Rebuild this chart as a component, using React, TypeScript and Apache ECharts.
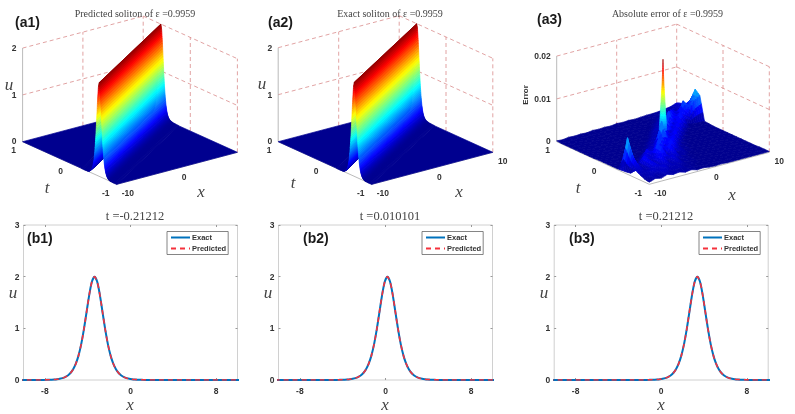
import React, { useEffect, useRef } from "react";
import * as echarts from "echarts";

const SANS = '"Liberation Sans", Arial, sans-serif';
const SERIF = '"Liberation Serif", "DejaVu Serif", serif';

// ---------- data ----------
const profileOffset = [-24, -10, -6, -5, -4.5, -4, -3.75, -3.5, -3.25, -3, -2.75, -2.5, -2.25, -2, -1.75, -1.5, -1.25, -1, -0.75, -0.5, -0.25, 0, 0.25, 0.5, 0.75, 1, 1.25, 1.5, 1.75, 2, 2.25, 2.5, 2.75, 3, 3.25, 3.5, 3.75, 4, 4.5, 5, 6, 10, 24];
const exactProfile = [0, 0, 0, 0.001, 0.0025, 0.006, 0.0095, 0.015, 0.023, 0.036, 0.056, 0.087, 0.135, 0.207, 0.315, 0.472, 0.69, 0.974, 1.309, 1.644, 1.902, 2, 1.902, 1.644, 1.309, 0.974, 0.69, 0.472, 0.315, 0.207, 0.135, 0.087, 0.056, 0.036, 0.023, 0.015, 0.0095, 0.006, 0.0025, 0.001, 0, 0, 0];
const predictedProfile = [0, 0, 0, 0.001, 0.0025, 0.006, 0.0095, 0.015, 0.023, 0.036, 0.056, 0.087, 0.135, 0.207, 0.315, 0.472, 0.69, 0.974, 1.309, 1.644, 1.902, 2, 1.902, 1.644, 1.309, 0.974, 0.69, 0.472, 0.315, 0.207, 0.135, 0.087, 0.056, 0.036, 0.023, 0.015, 0.0095, 0.006, 0.0025, 0.001, 0, 0, 0];
const ridgeSpeed = 16; // crest travels x = 16 t
const sliceCentres = [-3.36, 0.18, 3.38];
const sliceTitles = ["t =-0.21212", "t =0.010101", "t =0.21212"];
const surfaceTitles = ["Predicted soliton of ε =0.9959", "Exact soliton of ε =0.9959", "Absolute error of ε =0.9959"];
const xTicks3d = [-10, 0, 10];
const tTicks3d = [-1, 0, 1];
const uTicks = [0, 1, 2];
const errTicks = [0, 0.01, 0.02];
const errX = [-10, -9, -8, -7, -6, -5, -4, -3, -2, -1, 0, 1, 2, 3, 4, 5, 6, 7, 8, 9, 10];
const errT = [-1, -0.9, -0.8, -0.7, -0.6, -0.5, -0.4, -0.3, -0.2, -0.1, 0, 0.1, 0.2, 0.3, 0.4, 0.5, 0.6, 0.7, 0.8, 0.9, 1];
// absolute error, in units of 1e-4; rows follow errT, columns follow errX
const errRows = [
  [5, 10, 7, 12, 8, 10, 6, 8, 4, 5, 3, 2, 3, 2, 2, 2, 2, 2, 2, 2, 2],
  [7, 14, 9, 17, 12, 9, 11, 7, 6, 4, 3, 3, 2, 2, 2, 2, 2, 2, 2, 2, 2],
  [12, 10, 18, 13, 20, 10, 14, 8, 7, 5, 4, 3, 3, 2, 2, 2, 2, 2, 2, 2, 2],
  [18, 13, 10, 24, 14, 20, 10, 16, 7, 6, 5, 3, 3, 2, 2, 2, 2, 2, 2, 2, 1],
  [6, 22, 9, 26, 12, 30, 12, 22, 9, 8, 5, 4, 3, 2, 2, 2, 2, 2, 2, 1, 1],
  [4, 40, 8, 30, 14, 22, 36, 12, 24, 8, 6, 4, 3, 3, 2, 2, 2, 2, 2, 2, 1],
  [3, 75, 6, 10, 26, 12, 42, 16, 34, 12, 12, 5, 4, 3, 2, 2, 2, 2, 2, 1, 1],
  [2, 4, 4, 5, 8, 28, 12, 46, 14, 36, 14, 8, 5, 3, 2, 2, 2, 2, 2, 1, 1],
  [2, 3, 3, 3, 4, 6, 20, 10, 44, 18, 32, 10, 6, 4, 3, 2, 2, 2, 2, 1, 1],
  [2, 2, 3, 3, 3, 3, 5, 16, 12, 68, 16, 30, 8, 5, 3, 2, 2, 2, 2, 1, 1],
  [2, 2, 2, 2, 3, 3, 3, 4, 14, 10, 46, 14, 32, 7, 4, 3, 2, 2, 2, 1, 1],
  [2, 2, 2, 2, 2, 3, 3, 3, 5, 15, 8, 38, 10, 30, 7, 4, 3, 2, 2, 1, 1],
  [1, 2, 2, 2, 2, 2, 3, 3, 3, 5, 14, 9, 52, 14, 32, 6, 3, 2, 2, 2, 1],
  [1, 1, 2, 2, 2, 2, 2, 3, 3, 3, 5, 14, 8, 46, 12, 34, 7, 3, 2, 2, 2],
  [1, 1, 1, 2, 2, 2, 2, 2, 3, 3, 3, 6, 16, 9, 48, 14, 38, 8, 4, 3, 3],
  [1, 1, 1, 1, 2, 2, 2, 2, 2, 3, 3, 3, 6, 14, 10, 40, 16, 36, 22, 48, 58],
  [1, 1, 1, 1, 1, 2, 2, 2, 2, 2, 3, 3, 3, 6, 14, 12, 34, 12, 48, 30, 68],
  [1, 1, 1, 1, 1, 1, 2, 2, 2, 2, 2, 3, 3, 4, 6, 12, 10, 26, 12, 22, 38],
  [1, 1, 1, 1, 1, 1, 1, 2, 2, 2, 2, 2, 3, 3, 4, 6, 9, 10, 14, 12, 24],
  [1, 1, 1, 2, 1, 2, 1, 2, 2, 2, 2, 3, 2, 3, 3, 5, 7, 9, 11, 13, 20],
  [2, 1, 3, 2, 3, 2, 4, 3, 4, 3, 5, 4, 5, 4, 5, 6, 6, 7, 9, 11, 16],
];
// the one narrow spike that the error grid is too coarse for: x, t, base, top (1e-4)
const errSpike = [0, 0, 40, 205];
const errPeak = 205;

// ---------- panel geometry (how the box is seen) ----------
type Panel = { cx: number; cy: number; xv: number[]; tv: number[]; zs: number };
const panels: Panel[] = [
  { cx: 130, cy: 147, xv: [6.03, -1.6], tv: [-47.1, -21.3], zs: 46.8 },
  { cx: 385.5, cy: 147, xv: [6.05, -1.6], tv: [-46.8, -21.3], zs: 47 },
  { cx: 663, cy: 147, xv: [6.0, -1.6], tv: [-46.3, -21.3], zs: 4280 },
];
const zTickSets = [uTicks, uTicks, errTicks];
const zTickText = [["0", "1", "2"], ["0", "1", "2"], ["0", "0.01", "0.02"]];
const showX10 = [false, true, true];
const HALF_W = 130;
const UP = 147;
const DOWN = 60;

const project = (p: Panel, x: number, t: number, z: number) => [
  x * p.xv[0] + t * p.tv[0],
  -(x * p.xv[1] + t * p.tv[1]) + z * p.zs,
];

const jet = (v0: number) => {
  const v = Math.max(0, Math.min(1, v0)) * 0.97 + 0.015;
  const ramp = (c: number) => Math.max(0, Math.min(1, 1.5 - Math.abs(4 * v - c)));
  return `rgb(${Math.round(255 * ramp(3))},${Math.round(255 * ramp(2))},${Math.round(255 * ramp(1))})`;
};

const poly = (api: any, p: Panel, pts: number[][], fill: string) => ({
  type: "polygon",
  shape: { points: pts.map((q) => api.coord(project(p, q[0], q[1], q[2]))) },
  style: { fill, stroke: fill, lineWidth: 0.7 },
});

// ---------- ridge surface: strips parallel to the crest ----------
function ridgeStrips(profile: number[]) {
  const rows: number[][] = [];
  const n = 6;
  for (let i = 0; i < profileOffset.length - 1; i++) {
    const d0 = profileOffset[i];
    const d1 = profileOffset[i + 1];
    if (d0 < -6 || d1 > 6) continue;
    for (let k = 0; k < n; k++) {
      const a = k / n;
      const b = (k + 1) / n;
      rows.push([
        d0 + (d1 - d0) * a,
        d0 + (d1 - d0) * b,
        profile[i] + (profile[i + 1] - profile[i]) * a,
        profile[i] + (profile[i + 1] - profile[i]) * b,
      ]);
    }
  }
  return rows;
}

function ridgeSeries(pi: number, profile: number[]) {
  const p = panels[pi];
  const floorColour = jet(0);
  return [
    {
      type: "custom",
      xAxisIndex: pi,
      yAxisIndex: pi,
      silent: true,
      clip: false,
      z: 3,
      data: [[0]],
      renderItem: (_: any, api: any) => ({
        type: "group",
        children: [
          poly(api, p, [[-10, 1, 0], [10, 1, 0], [-10, (-10 + 6) / ridgeSpeed, 0]], floorColour),
          poly(api, p, [[-10, -1, 0], [10, -1, 0], [10, (10 - 6) / ridgeSpeed, 0]], floorColour),
        ],
      }),
    },
    {
      type: "custom",
      xAxisIndex: pi,
      yAxisIndex: pi,
      silent: true,
      clip: false,
      z: 4,
      data: ridgeStrips(profile),
      renderItem: (_: any, api: any) => {
        const d0 = api.value(0);
        const d1 = api.value(1);
        const u0 = api.value(2);
        const u1 = api.value(3);
        const ts = ridgeSpeed;
        return poly(api, p, [
          [-10, (-10 - d0) / ts, u0],
          [10, (10 - d0) / ts, u0],
          [10, (10 - d1) / ts, u1],
          [-10, (-10 - d1) / ts, u1],
        ], jet(((u0 + u1) / 2) / 2));
      },
    },
  ];
}

// ---------- error surface ----------
function errorSeries(pi: number) {
  const p = panels[pi];
  const cells: number[][] = [];
  for (let j = errT.length - 2; j >= 0; j--) {
    for (let i = errX.length - 2; i >= 0; i--) {
      cells.push([i, j]);
      if (errX[i] === errSpike[0] && errT[j] === errSpike[1]) cells.push([-1, -1]);
    }
  }
  const spike = (api: any) => {
    const [sx, st, base, top] = errSpike;
    const bands = 30;
    const wx = 0.36;
    const wt = 0.036;
    const ring = (k: number) => {
      const l = k / bands;
      const w = Math.pow(1 - l, 1.3);
      const h = (base + (top - base) * l) * 1e-4;
      return [
        [sx - wx * w, st + wt * w, h],
        [sx - wx * w, st - wt * w, h],
        [sx + wx * w, st - wt * w, h],
      ];
    };
    const children: any[] = [];
    for (let k = 0; k < bands; k++) {
      const lo = ring(k);
      const hi = ring(k + 1);
      const level = (base + (top - base) * ((k + 0.5) / bands)) / errPeak;
      children.push(poly(api, p, [lo[0], lo[1], lo[2], hi[2], hi[1], hi[0]], jet(level)));
    }
    return { type: "group", children };
  };
  return {
    type: "custom",
    xAxisIndex: pi,
    yAxisIndex: pi,
    silent: true,
    clip: false,
    z: 4,
    data: cells,
    renderItem: (_: any, api: any) => {
      const i = api.value(0);
      const j = api.value(1);
      if (i < 0) return spike(api);
      const a = errRows[j][i];
      const b = errRows[j][i + 1];
      const c = errRows[j + 1][i + 1];
      const e = errRows[j + 1][i];
      const spread = Math.max(a, b, c, e) - Math.min(a, b, c, e);
      const n = spread > 6 ? 3 : 1;
      const height = (u: number, v: number) => a * (1 - u) * (1 - v) + b * u * (1 - v) + c * u * v + e * (1 - u) * v;
      const at = (u: number, v: number) => [
        errX[i] + (errX[i + 1] - errX[i]) * u,
        errT[j] + (errT[j + 1] - errT[j]) * v,
        height(u, v) * 1e-4,
      ];
      const children: any[] = [];
      for (let vi = n - 1; vi >= 0; vi--) {
        for (let ui = n - 1; ui >= 0; ui--) {
          const u0 = ui / n;
          const u1 = (ui + 1) / n;
          const v0 = vi / n;
          const v1 = (vi + 1) / n;
          children.push(poly(api, p, [at(u0, v0), at(u1, v0), at(u1, v1), at(u0, v1)], jet(Math.max(0, height((u0 + u1) / 2, (v0 + v1) / 2) - 4) / errPeak)));
        }
      }
      return { type: "group", children };
    },
  };
}

// ---------- box wires and ticks ----------
function boxSeries(pi: number) {
  const p = panels[pi];
  const zt = zTickSets[pi];
  const top = zt[zt.length - 1];
  const dashed: number[][] = [];
  zt.slice(1).forEach((z) => {
    dashed.push([-10, 1, z, 10, 1, z]);
    dashed.push([10, 1, z, 10, -1, z]);
  });
  dashed.push([0, 1, 0, 0, 1, top]);
  dashed.push([10, 1, 0, 10, 1, top]);
  dashed.push([10, 0, 0, 10, 0, top]);
  dashed.push([10, -1, 0, 10, -1, top]);
  const solid = [
    [-10, 1, 0, -10, 1, top],
    [-10, 1, 0, -10, -1, 0],
    [-10, -1, 0, 10, -1, 0],
  ];
  const drawLine = (api: any, stroke: string, dash: any, w: number) => {
    const a = api.coord(project(p, api.value(0), api.value(1), api.value(2)));
    const b = api.coord(project(p, api.value(3), api.value(4), api.value(5)));
    return {
      type: "line",
      shape: { x1: a[0], y1: a[1], x2: b[0], y2: b[1] },
      style: { stroke, lineWidth: w, lineDash: dash, fill: "none" },
    };
  };
  return [
    { type: "custom", xAxisIndex: pi, yAxisIndex: pi, silent: true, clip: false, z: 2, data: dashed, renderItem: (_: any, api: any) => drawLine(api, "#d98c8c", [4, 3], 0.8) },
    { type: "custom", xAxisIndex: pi, yAxisIndex: pi, silent: true, clip: false, z: 2, data: solid, renderItem: (_: any, api: any) => drawLine(api, "#a8a8a8", null, 0.8) },
  ];
}

function tickSeries(pi: number) {
  const p = panels[pi];
  const label = (api: any, at: number[], dx: number, dy: number, text: string, align = "center") => {
    const c = api.coord(project(p, at[0], at[1], at[2]));
    return {
      type: "text",
      x: c[0] + dx,
      y: c[1] + dy,
      style: { text, fill: "#333", font: `bold 8.5px ${SANS}`, align, verticalAlign: "middle", textAlign: align, textVerticalAlign: "middle" },
    };
  };
  const items: number[][] = [];
  zTickSets[pi].forEach((_, i) => items.push([0, i]));
  tTicks3d.forEach((_, i) => items.push([1, i]));
  xTicks3d.forEach((_, i) => { if (i < 2 || showX10[pi]) items.push([2, i]); });
  return {
    type: "custom",
    xAxisIndex: pi,
    yAxisIndex: pi,
    silent: true,
    clip: false,
    z: 6,
    data: items,
    renderItem: (_: any, api: any) => {
      const kind = api.value(0);
      const i = api.value(1);
      if (kind === 0) return label(api, [-10, 1, zTickSets[pi][i]], -6, i === 0 ? -1 : 0, zTickText[pi][i], "right");
      if (kind === 1) {
        const t = tTicks3d[i];
        return label(api, [-10, t, 0], t === -1 ? -11 : -9, t === -1 ? 9 : 8, String(t));
      }
      const x = xTicks3d[i];
      return label(api, [x, -1, 0], x === 0 ? 7 : x === -10 ? 11 : 10, 9, String(x));
    },
  };
}

// ---------- texts ----------
const mathLabels = [
  ["u", 9, 84], ["t", 47, 187], ["x", 201, 191],
  ["u", 262, 83], ["t", 293, 182], ["x", 459, 191],
  ["t", 578, 187], ["x", 732, 194],
  ["u", 13, 292], ["x", 130, 404],
  ["u", 268, 292], ["x", 385, 404],
  ["u", 544, 292], ["x", 661, 404],
];
const panelTags = [
  ["(a1)", 15, 22], ["(a2)", 268, 22], ["(a3)", 537, 19],
  ["(b1)", 27, 238], ["(b2)", 303, 238], ["(b3)", 569, 238],
];

const bGrids = [
  { left: 23.5, width: 214 },
  { left: 278.5, width: 214 },
  { left: 554.2, width: 214 },
];
const legendLeft = [167, 422, 699];

function buildOption() {
  const grids: any[] = [];
  const xAxes: any[] = [];
  const yAxes: any[] = [];
  const series: any[] = [];
  const legends: any[] = [];

  panels.forEach((p, i) => {
    grids.push({ left: p.cx - HALF_W, top: p.cy - UP, width: 2 * HALF_W, height: UP + DOWN });
    xAxes.push({ type: "value", gridIndex: i, show: false, min: -HALF_W, max: HALF_W });
    yAxes.push({ type: "value", gridIndex: i, show: false, min: -DOWN, max: UP });
  });

  bGrids.forEach((g) => {
    grids.push({ left: g.left, width: g.width, top: 225, height: 155, show: true, borderColor: "#c4c4c4", borderWidth: 0.8, backgroundColor: "transparent" });
  });
  const xt = [-8, 0, 8];
  bGrids.forEach((_, i) => {
    xAxes.push({
      type: "value", gridIndex: 3 + i, min: -10, max: 10, splitLine: { show: false },
      axisLine: { show: false, onZero: false },
      axisTick: { inside: true, length: 2, customValues: xt, lineStyle: { color: "#999" } },
      axisLabel: { customValues: xt, color: "#333", fontFamily: SANS, fontSize: 8.5, fontWeight: "bold", margin: 6, hideOverlap: false },
    });
    yAxes.push({
      type: "value", gridIndex: 3 + i, min: 0, max: 3, interval: 1, splitLine: { show: false },
      axisLine: { show: false, onZero: false },
      axisTick: { inside: true, length: 2, lineStyle: { color: "#999" } },
      axisLabel: { color: "#333", fontFamily: SANS, fontSize: 8.5, fontWeight: "bold", margin: 4 },
    });
  });
  bGrids.forEach((_, i) => {
    xAxes.push({
      type: "value", gridIndex: 3 + i, position: "top", min: -10, max: 10, splitLine: { show: false },
      axisLine: { show: false, onZero: false }, axisLabel: { show: false },
      axisTick: { inside: true, length: 2, customValues: xt, lineStyle: { color: "#999" } },
    });
    yAxes.push({
      type: "value", gridIndex: 3 + i, position: "right", min: 0, max: 3, interval: 1, splitLine: { show: false },
      axisLine: { show: false, onZero: false }, axisLabel: { show: false },
      axisTick: { inside: true, length: 2, lineStyle: { color: "#999" } },
    });
  });

  panels.forEach((_, i) => {
    series.push(...boxSeries(i));
    if (i === 0) series.push(...ridgeSeries(0, predictedProfile));
    if (i === 1) series.push(...ridgeSeries(1, exactProfile));
    if (i === 2) series.push(errorSeries(2));
    series.push(tickSeries(i));
  });

  sliceCentres.forEach((c, i) => {
    series.push({
      name: "Exact", type: "line", xAxisIndex: 3 + i, yAxisIndex: 3 + i, symbol: "none", smooth: 0.25, z: 4,
      lineStyle: { color: "#0072BD", width: 2 },
      itemStyle: { color: "#0072BD" },
      data: profileOffset.map((d, k) => [c + d, exactProfile[k]]),
    });
    series.push({
      name: "Predicted", type: "line", xAxisIndex: 3 + i, yAxisIndex: 3 + i, symbol: "none", smooth: 0.25, z: 5,
      lineStyle: { color: "#F5323C", width: 1.6, type: [5, 4] },
      itemStyle: { color: "#F5323C" },
      data: profileOffset.map((d, k) => [c + d, predictedProfile[k]]),
    });
    legends.push({
      data: ["Exact", "Predicted"], orient: "vertical", left: legendLeft[i], top: 231.5, selectedMode: false,
      itemWidth: 19, itemHeight: 8, itemGap: 3, padding: [2, 2, 2, 3],
      borderColor: "#666", borderWidth: 0.8, backgroundColor: "#fff",
      itemStyle: { opacity: 0 },
      textStyle: { fontSize: 7.5, fontWeight: "bold", fontFamily: SANS, color: "#333", padding: [0, 0, 0, -3] },
    });
  });

  const titles = [
    ...surfaceTitles.map((text, i) => ({ text, left: [130, 385, 662.5][i], top: 3, textAlign: "center", textStyle: { fontFamily: SERIF, fontSize: 10, fontWeight: "normal", color: "#444" } })),
    ...sliceTitles.map((text, i) => ({ text, left: [130, 385, 661][i], top: 204, textAlign: "center", textStyle: { fontFamily: SERIF, fontSize: 12.5, fontWeight: "normal", color: "#444" } })),
  ];

  const graphic = [
    ...mathLabels.map((m) => ({
      type: "text", x: m[1] as number, y: m[2] as number, z: 10,
      style: { text: m[0] as string, font: `italic 17px ${SERIF}`, fill: "#444", textAlign: "center", textVerticalAlign: "middle", align: "center", verticalAlign: "middle" },
    })),
    {
      type: "text", x: 525, y: 95, rotation: Math.PI / 2, z: 10,
      style: { text: "Error", font: `bold 8px ${SANS}`, fill: "#333", textAlign: "center", textVerticalAlign: "middle", align: "center", verticalAlign: "middle" },
    },
    ...panelTags.map((m) => ({
      type: "text", x: m[1] as number, y: m[2] as number, z: 10,
      style: { text: m[0] as string, font: `bold 14px ${SANS}`, fill: "#1a1a1a", textAlign: "left", textVerticalAlign: "middle", align: "left", verticalAlign: "middle" },
    })),
  ];

  return { animation: false, backgroundColor: "#fff", title: titles, grid: grids, xAxis: xAxes, yAxis: yAxes, series, legend: legends, graphic };
}

export default function App() {
  const ref = useRef<HTMLDivElement>(null);
  useEffect(() => {
    const chart = echarts.init(ref.current!, undefined, { renderer: "svg" });
    chart.setOption(buildOption() as any);
    return () => chart.dispose();
  }, []);
  return <div ref={ref} style={{ position: "absolute", left: 0, top: 0, width: 795, height: 414, filter: "blur(0.55px)" }} />;
}
